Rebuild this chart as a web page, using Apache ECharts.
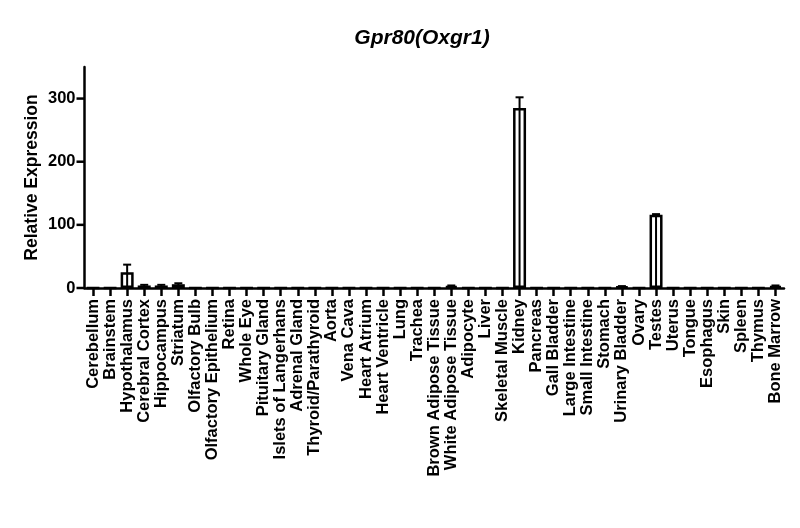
<!DOCTYPE html>
<html>
<head>
<meta charset="utf-8">
<script src="https://cdn.jsdelivr.net/npm/echarts@6/dist/echarts.min.js"></script>
<style>html,body{margin:0;padding:0;background:#fff}#c{width:800px;height:528px}</style>
</head>
<body>
<div id="c"></div>
<script>
var categories = ["Cerebellum","Brainstem","Hypothalamus","Cerebral Cortex","Hippocampus","Striatum","Olfactory Bulb","Olfactory Epithelium","Retina","Whole Eye","Pituitary Gland","Islets of Langerhans","Adrenal Gland","Thyroid/Parathyroid","Aorta","Vena Cava","Heart Atrium","Heart Ventricle","Lung","Trachea","Brown Adipose Tissue","White Adipose Tissue","Adipocyte","Liver","Skeletal Muscle","Kidney","Pancreas","Gall Bladder","Large Intestine","Small Intestine","Stomach","Urinary Bladder","Ovary","Testes","Uterus","Tongue","Esophagus","Skin","Spleen","Thymus","Bone Marrow"];
var values = [0.3,0.3,25,4,4,6,0.3,0.3,0.3,0.3,0.3,0.3,0.3,0.3,0.3,0.3,0.3,0.3,0.3,0.3,0.3,3,0.3,0.3,0.3,285,0.3,0.3,0.3,0.3,0.3,2,0.3,116,0.3,0.3,0.3,0.3,0.3,0.3,3];
var errors = [0,0,12,1,1,1.5,0,0,0,0,0,0,0,0,0,0,0,0,0,0,0,1,0,0,0,17,0,0,0,0,0,1,0,1,0,0,0,0,0,0,1];
var yTicks = [0,100,200,300];

var FONT = "Liberation Sans";
var errData = values.map(function(v,i){return [i, v, errors[i]];});
var tickData = yTicks.map(function(v){return [0, v];});
var chart = echarts.init(document.getElementById('c'));
chart.setOption({
  animation:false,
  backgroundColor:'#fff',
  title:{text:'Gpr80(Oxgr1)', left:417, top:23, textAlign:'center',
    textStyle:{fontFamily:FONT, fontSize:21, fontWeight:'bold', fontStyle:'italic', color:'#000'}},
  grid:{left:84.5, right:16, top:67, bottom:240, containLabel:false},
  xAxis:{type:'category', data:categories, boundaryGap:true,
    axisLine:{lineStyle:{color:'#000', width:2.5}},
    axisTick:{show:true, alignWithLabel:true, interval:0, length:8, lineStyle:{color:'#000', width:2.5}},
    axisLabel:{rotate:90, interval:0, fontFamily:FONT, fontSize:16.5, fontWeight:'bold', color:'#000', margin:11}},
  yAxis:{type:'value', min:0, max:350, interval:100,
    name:'Relative Expression', nameLocation:'middle', nameGap:43, nameMoveOverlap:false,
    nameTextStyle:{fontFamily:FONT, fontSize:17.5, fontWeight:'bold', color:'#000'},
    axisLine:{show:true, lineStyle:{color:'#000', width:2.5}},
    axisTick:{show:false},
    splitLine:{show:false},
    axisLabel:{fontFamily:FONT, fontSize:16.5, fontWeight:'bold', color:'#000', margin:9,
      formatter:function(v){return yTicks.indexOf(v)>=0 ? String(v) : '';}}},
  series:[
    {type:'custom', data:tickData, clip:false, silent:true, z:10,
     renderItem:function(params, api){
       var y=api.coord([0, api.value(1)])[1];
       var x=params.coordSys.x;
       return {type:'line', shape:{x1:x-8, y1:y, x2:x, y2:y}, style:{stroke:'#000', lineWidth:2.5}};
     }},
    {type:'bar', data:values, barWidth:13,
     itemStyle:{color:'#fff', borderColor:'#000', borderWidth:2.5}},
    {type:'custom', data:errData, z:5,
     renderItem:function(params, api){
       var i=api.value(0), v=api.value(1), e=api.value(2);
       if(!(e>0)) return null;
       var base=api.coord([i,0]), top=api.coord([i,v+e]);
       var w=4;
       return {type:'group', children:[
         {type:'line', shape:{x1:base[0], y1:base[1], x2:top[0], y2:top[1]}, style:{stroke:'#000', lineWidth:2}},
         {type:'line', shape:{x1:top[0]-w, y1:top[1], x2:top[0]+w, y2:top[1]}, style:{stroke:'#000', lineWidth:2}}
       ]};
     }}
  ]
});
</script>
</body>
</html>
